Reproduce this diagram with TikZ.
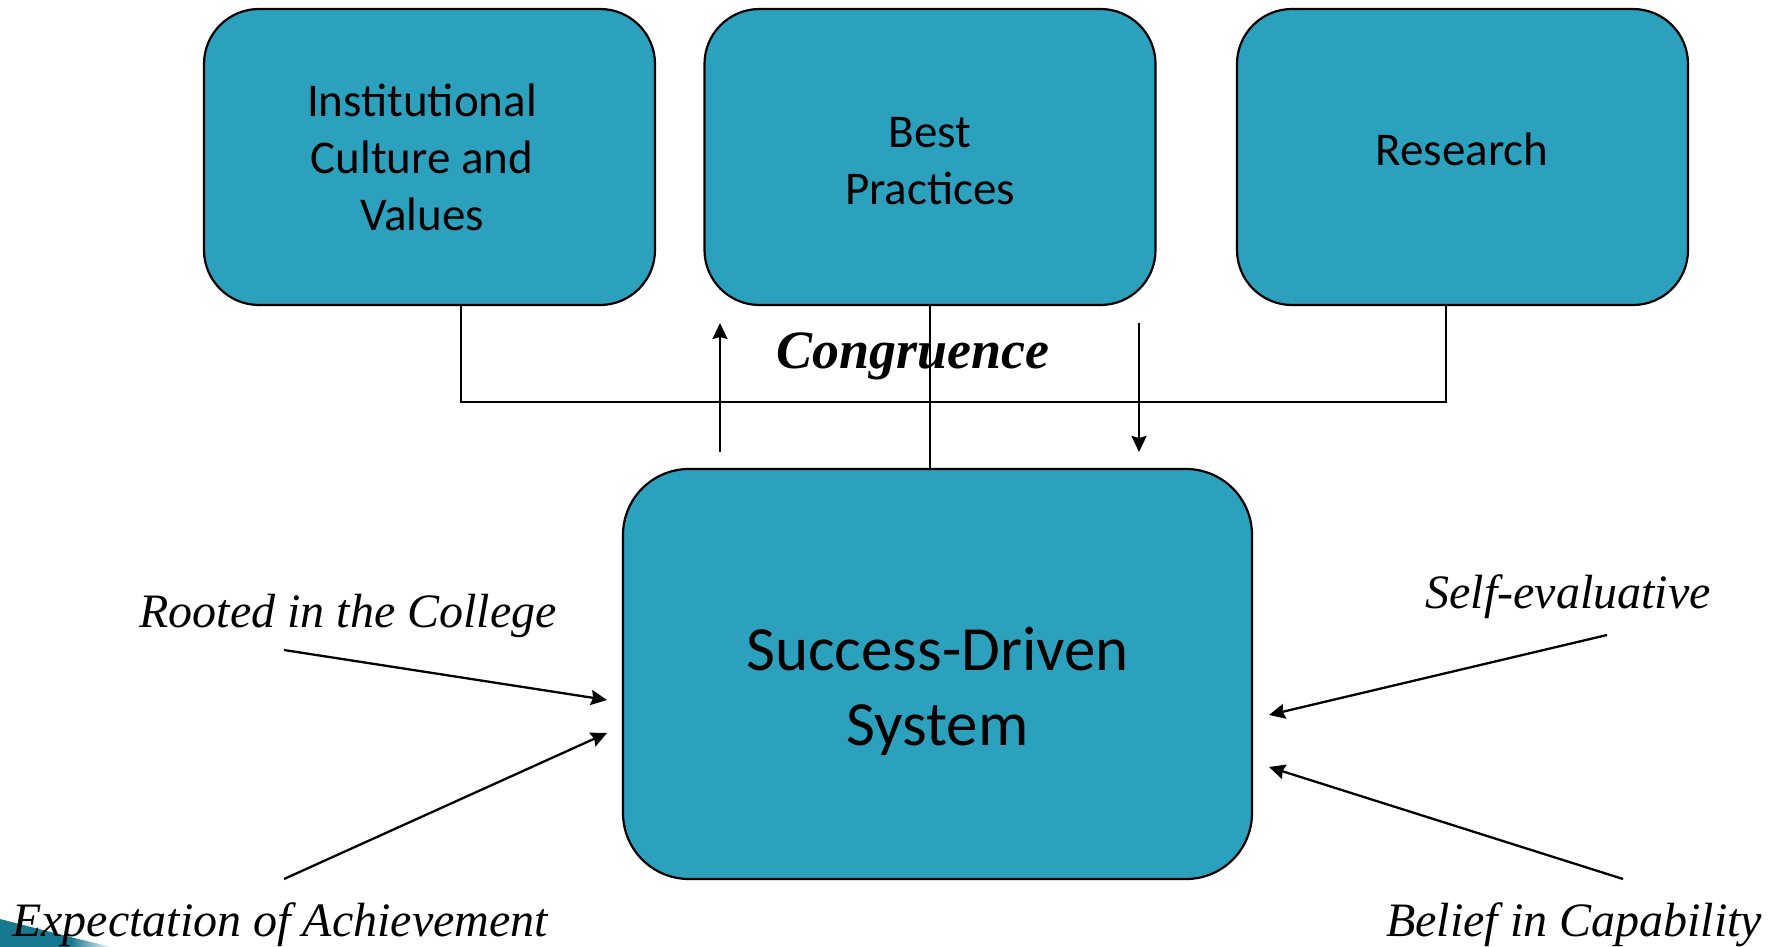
\documentclass[tikz,border=0pt]{standalone}
\usepackage{fontspec}
\setmainfont{Liberation Serif}
\newfontfamily\boxfont{Carlito}
\usetikzlibrary{arrows.meta,calc}
\definecolor{boxteal}{HTML}{2CA1BE}
\definecolor{swoosh}{HTML}{17798F}
\tikzset{
  topbox/.style={draw=black, line width=1.1pt, fill=boxteal, rounded corners=27.5pt,
    minimum width=225.5pt, minimum height=148pt, inner sep=0pt},
  mainbox/.style={draw=black, line width=1.1pt, fill=boxteal, rounded corners=33pt,
    minimum width=314.5pt, minimum height=205pt, inner sep=0pt},
  boxtext/.style={font=\boxfont\fontsize{23.5pt}{28.5pt}\selectfont, align=center, inner sep=0pt},
  maintext/.style={font=\boxfont\fontsize{31.5pt}{37.5pt}\selectfont, align=center, inner sep=0pt},
  lbl/.style={font=\itshape\fontsize{24pt}{28pt}\selectfont, inner sep=0pt},
  conn/.style={line width=1.1pt, black},
  arr/.style={line width=1.15pt, black, -{Stealth[length=8pt,width=7.5pt,inset=1pt]}}
}
\begin{document}
\begin{tikzpicture}[x=0.5pt,y=-0.5pt]
\useasboundingbox (0,0) rectangle (1777,947);
\fill[white] (0,0) rectangle (1777,947);
% decorative swoosh
\fill[swoosh] (0,919) -- (72,937.5) -- (72,947) -- (0,947) -- cycle;
\shade[left color=swoosh, right color=white] (71,937.2) -- (112,947) -- (71,947) -- cycle;

% boxes
\node[topbox] (b1) at (429.5,157) {};
\node[topbox] (b2) at (930,157) {};
\node[topbox] (b3) at (1462.5,157) {};
\node[mainbox] (b4) at (937.5,674) {};

\node[boxtext] (t1) at (422,157) {Institutional\\Culture and\\Values};
\node[boxtext] (t2) at (930,161) {Best\\Practices};
\node[boxtext] (t3) at (1462,149) {Research};
\node[maintext] (t4) at (937.5,691) {Success-Driven\\System};

% congruence connectors
\coordinate (j1) at (461,402);
\coordinate (j3) at (1446,402);
\draw[conn] (b1.south -| j1) -- (j1) -- (j3) -- (b3.south -| j3);
\draw[conn] (b2.south) -- (b4.north -| b2.south);
\coordinate (ua) at (720,452);
\coordinate (ub) at (720,323);
\coordinate (da) at (1139,323);
\coordinate (db) at (1139,452);
\draw[arr] (ua) -- (ub);
\draw[arr] (da) -- (db);
\node[font=\bfseries\itshape\fontsize{27pt}{30pt}\selectfont, inner sep=0pt] (cg) at (913,356) {Congruence};

% side labels
\node[lbl] (l1) at (348,616) {Rooted in the College};
\node[lbl] (l2) at (280,925) {Expectation of Achievement};
\node[lbl] (l3) at (1568,597) {Self-evaluative};
\node[lbl] (l4) at (1574,925) {Belief in Capability};

\coordinate (a1s) at (284,650);
\coordinate (a1e) at (607,700);
\coordinate (a2s) at (284,879);
\coordinate (a2e) at (607,733);
\coordinate (a3s) at (1607,635);
\coordinate (a3e) at (1269,715);
\coordinate (a4s) at (1623,879);
\coordinate (a4e) at (1269,767);
\draw[arr] (a1s) -- (a1e);
\draw[arr] (a2s) -- (a2e);
\draw[arr] (a3s) -- (a3e);
\draw[arr] (a4s) -- (a4e);
\end{tikzpicture}
\end{document}
